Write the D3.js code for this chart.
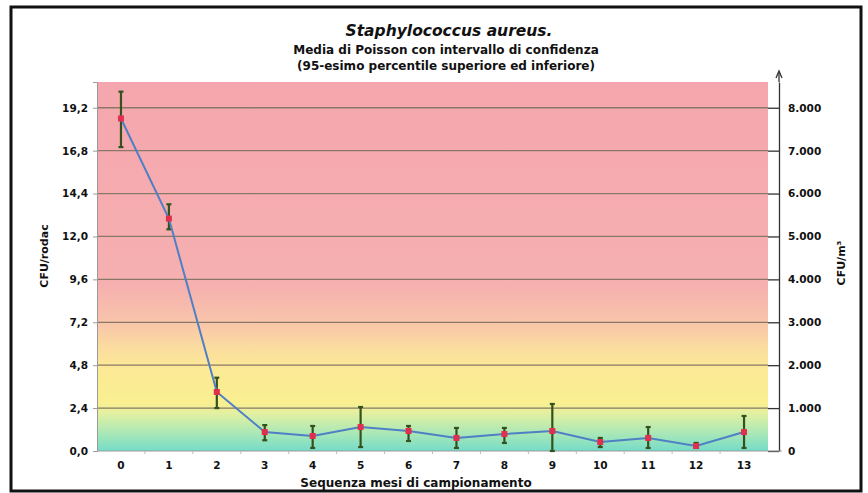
<!DOCTYPE html>
<html>
<head>
<meta charset="utf-8">
<script src="https://cdn.jsdelivr.net/npm/d3@7"></script>
<style>
  body { margin: 0; background: #fff; }
  svg text { font-family: "DejaVu Sans", Verdana, sans-serif; font-weight: bold; fill: #111; }
</style>
</head>
<body>
<div id="chart"></div>
<script>
// sampling months and Poisson mean with 95% interval (CFU/rodac)
const months = ["0", "1", "2", "3", "4", "5", "6", "7", "8", "9", "10", "11", "12", "13"];
const mean  = [18.6, 13.0, 3.3, 1.06, 0.84, 1.34, 1.12, 0.73, 0.95, 1.12, 0.5, 0.73, 0.28, 1.06];
const upper = [20.1, 13.8, 4.1, 1.45, 1.4, 2.46, 1.4, 1.29, 1.29, 2.63, 0.73, 1.34, 0.45, 1.96];
const lower = [17.0, 12.4, 2.4, 0.6, 0.17, 0.22, 0.56, 0.17, 0.45, 0.0, 0.22, 0.17, 0.17, 0.17];

const leftTicks = [0, 2.4, 4.8, 7.2, 9.6, 12.0, 14.4, 16.8, 19.2];
const leftLabels = ["0,0", "2,4", "4,8", "7,2", "9,6", "12,0", "14,4", "16,8", "19,2"];
const rightTicks = [0, 1000, 2000, 3000, 4000, 5000, 6000, 7000, 8000];
const rightLabels = ["0", "1.000", "2.000", "3.000", "4.000", "5.000", "6.000", "7.000", "8.000"];

const W = 868, H = 493;
const pLeft = 97, pRight = 768, pTop = 82, pBottom = 451;

const svg = d3.select("#chart").append("svg")
  .attr("width", W)
  .attr("height", H);

// frame
svg.append("rect")
  .attr("x", 11).attr("y", 7)
  .attr("width", 850).attr("height", 484)
  .attr("fill", "#fff")
  .attr("stroke", "#111")
  .attr("stroke-width", 3);

const x = d3.scaleBand().domain(months).range([pLeft, pRight]);
const yL = d3.scaleLinear().domain([0, 20.64]).range([pBottom, pTop]);
const yR = d3.scaleLinear().domain([0, 8600]).range([pBottom, pTop]);

// background bands, red -> yellow -> green
const grad = svg.append("defs").append("linearGradient")
  .attr("id", "bg").attr("x1", 0).attr("y1", 0).attr("x2", 0).attr("y2", 1);
[[0, "#f5a6ae"], [0.55, "#f6b0b0"], [0.65, "#f8c4aa"], [0.72, "#fbdc9f"],
 [0.78, "#fcea95"], [0.87, "#f9ef90"], [0.9, "#e0f0a2"], [0.95, "#ace8b6"], [1, "#74dcc8"]]
  .forEach(s => grad.append("stop").attr("offset", s[0]).attr("stop-color", s[1]));

svg.append("rect")
  .attr("x", pLeft).attr("y", pTop)
  .attr("width", pRight - pLeft).attr("height", pBottom - pTop)
  .attr("fill", "url(#bg)");

// gridlines
svg.append("g").selectAll("line")
  .data(leftTicks.slice(1))
  .join("line")
  .attr("x1", pLeft).attr("x2", pRight)
  .attr("y1", d => yL(d)).attr("y2", d => yL(d))
  .attr("stroke", "#8a7866")
  .attr("stroke-width", 1.3);

// left axis
const gL = svg.append("g")
  .attr("transform", `translate(${pLeft},0)`)
  .call(d3.axisLeft(yL).tickValues(leftTicks).tickSize(4).tickPadding(5)
    .tickFormat((d, i) => leftLabels[i]));
gL.select(".domain").attr("stroke", "#9a9a9a");
gL.selectAll(".tick line").attr("stroke", "#9a9a9a");
gL.selectAll("text").attr("font-size", 10.5);

// right axis with arrow
const gR = svg.append("g")
  .attr("transform", "translate(779,0)")
  .call(d3.axisRight(yR).tickValues(rightTicks).tickSizeInner(-11).tickSizeOuter(0).tickPadding(9)
    .tickFormat((d, i) => rightLabels[i]));
gR.select(".domain").attr("stroke", "#333").attr("stroke-width", 1.3);
gR.selectAll(".tick line").attr("stroke", "#333").attr("stroke-width", 1.3);
gR.selectAll("text").attr("font-size", 10.5);
gR.append("line").attr("x1", 0).attr("x2", 0).attr("y1", pTop).attr("y2", 72)
  .attr("stroke", "#333").attr("stroke-width", 1.3);
gR.append("path").attr("d", "M-3,78 L0,71 L3,78").attr("fill", "none")
  .attr("stroke", "#333").attr("stroke-width", 1.3);

// x axis
svg.append("line")
  .attr("x1", pLeft).attr("x2", pRight + 14)
  .attr("y1", pBottom).attr("y2", pBottom)
  .attr("stroke", "#9a9a9a");
svg.append("g").selectAll("line")
  .data(months.slice(1))
  .join("line")
  .attr("x1", d => x(d)).attr("x2", d => x(d))
  .attr("y1", pBottom).attr("y2", pBottom + 3)
  .attr("stroke", "#bbb");
const gX = svg.append("g")
  .attr("transform", `translate(0,${pBottom})`)
  .call(d3.axisBottom(x).tickSize(0).tickPadding(11));
gX.select(".domain").remove();
gX.selectAll("text").attr("font-size", 10.5);

// error bars
const cx = d => x(d) + x.bandwidth() / 2;
const eb = svg.append("g").attr("stroke", "#35521c").attr("stroke-width", 2.2);
months.forEach((m, i) => {
  eb.append("line").attr("x1", cx(m)).attr("x2", cx(m))
    .attr("y1", yL(upper[i])).attr("y2", yL(lower[i]));
  [upper[i], lower[i]].forEach(v => eb.append("line")
    .attr("x1", cx(m) - 2.5).attr("x2", cx(m) + 2.5)
    .attr("y1", yL(v)).attr("y2", yL(v)));
});

// mean line
svg.append("path")
  .datum(months)
  .attr("fill", "none")
  .attr("stroke", "#4f7fc4")
  .attr("stroke-width", 2)
  .attr("d", d3.line().x(d => cx(d)).y((d, i) => yL(mean[i])));

svg.append("g").selectAll("rect")
  .data(months)
  .join("rect")
  .attr("x", d => cx(d) - 3).attr("y", (d, i) => yL(mean[i]) - 3)
  .attr("width", 6).attr("height", 6)
  .attr("fill", "#e0304e");

// titles
svg.append("text").attr("x", 449).attr("y", 36).attr("text-anchor", "middle")
  .attr("font-size", 15.5).attr("font-style", "italic").text("Staphylococcus aureus.");
svg.append("text").attr("x", 446).attr("y", 54).attr("text-anchor", "middle")
  .attr("font-size", 12).text("Media di Poisson con intervallo di confidenza");
svg.append("text").attr("x", 446).attr("y", 70).attr("text-anchor", "middle")
  .attr("font-size", 12).text("(95-esimo percentile superiore ed inferiore)");

svg.append("text").attr("x", 416).attr("y", 487).attr("text-anchor", "middle")
  .attr("font-size", 12).text("Sequenza mesi di campionamento");

svg.append("text")
  .attr("transform", "translate(48,256) rotate(-90)")
  .attr("text-anchor", "middle").attr("font-size", 11).text("CFU/rodac");

svg.append("text")
  .attr("transform", "translate(845,263) rotate(-90)")
  .attr("text-anchor", "middle").attr("font-size", 11).text("CFU/m³");
</script>
</body>
</html>
